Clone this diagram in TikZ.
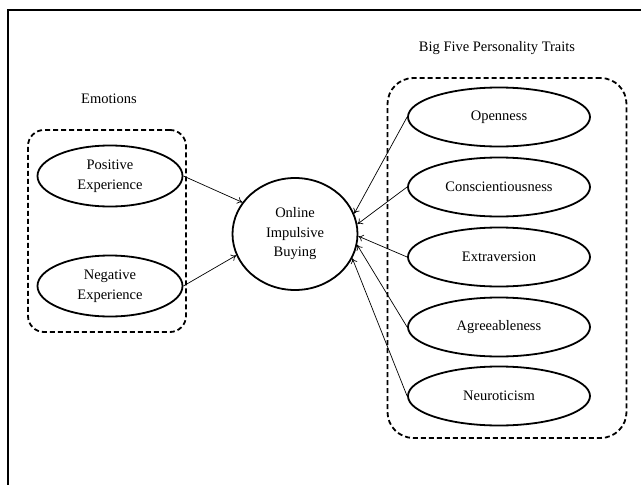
\documentclass[tikz,border=0pt]{standalone}
\usepackage{fontspec}
\setmainfont{Liberation Serif}
\usetikzlibrary{shapes.geometric,arrows.meta}

\begin{document}
\begin{tikzpicture}[x=1pt,y=-1pt,
				every node/.style={font=\fontsize{14.5}{19.5}\selectfont},
				factor/.style={draw,ellipse,line width=1.8pt,inner sep=0pt,align=center},
				emotion/.style={factor,minimum width=145,minimum height=61},
				trait/.style={factor,minimum width=182,minimum height=59},
				group/.style={draw,dash pattern=on 5pt off 3pt,line width=1.8pt},
				link/.style={->,line width=0.7pt},
				>={To[length=5pt,width=7pt]}]
				
				\useasboundingbox (0,0) rectangle (641,485);
				
				% Frame (top and left edge)
				\draw[line width=2pt] (8,485) -- (8,10) -- (641,10);
				
				% Groups
				\node[group,rounded corners=16pt,minimum width=158,minimum height=202] (emobox) at (107,231) {};
				\node[group,rounded corners=26pt,minimum width=239,minimum height=360] (traitbox) at (507,258) {};
				\node (emotions) at (109,99) {Emotions};
				\node (bigfive) at (497,48) {Big Five Personality Traits};
				
				% Emotions
				\node[emotion] (pos) at (110,176) {Positive\\Experience};
				\node[emotion] (neg) at (110,286) {Negative\\Experience};
				
				% Outcome
				\node[factor,minimum width=125,minimum height=112] (oib) at (295,234) {Online\\Impulsive\\Buying};
				
				% Personality traits
				\foreach \name/\txt/\y in {open/Openness/117, cons/Conscientiousness/187,
						extr/Extraversion/257, agre/Agreeableness/327, neur/Neuroticism/396}
					\node[trait] (\name) at (499,\y) {\txt};
				
				% Links
				\draw[link] (pos.east) -- (oib.149);
				\draw[link] (neg.east) -- (oib.200);
				\foreach \name/\ang in {open/19, cons/9, extr/-2, agre/-10, neur/-23}
					\draw[link] (\name.west) -- (oib.\ang);
			\end{tikzpicture}
\end{document}
